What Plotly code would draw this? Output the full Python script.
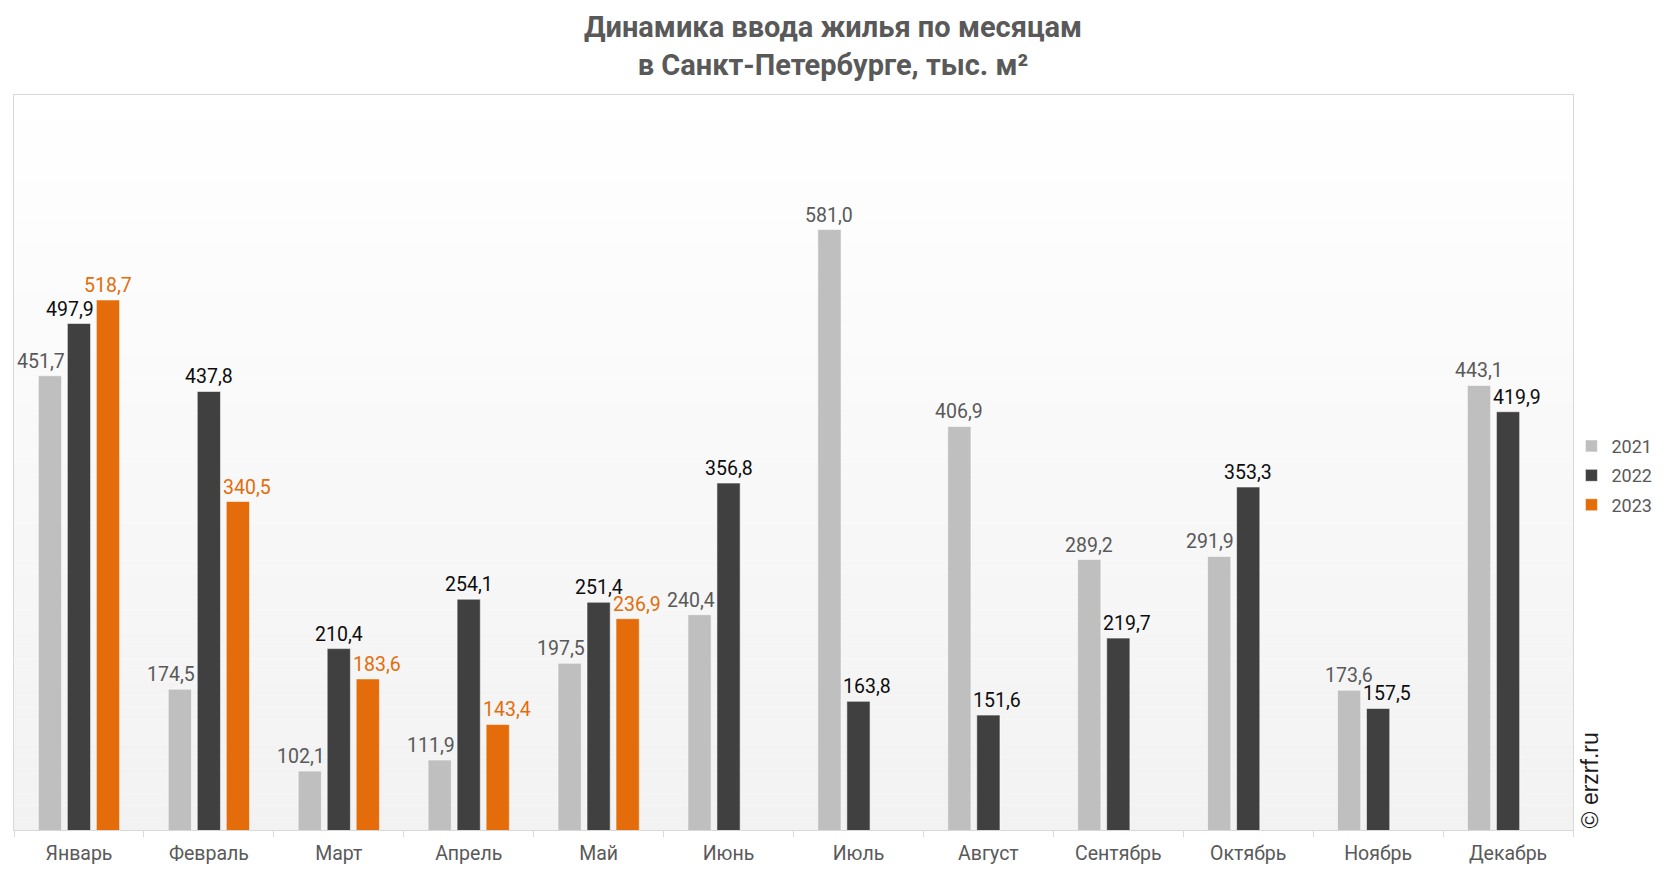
import plotly.graph_objects as go

months = ["Январь", "Февраль", "Март", "Апрель", "Май", "Июнь", "Июль",
          "Август", "Сентябрь", "Октябрь", "Ноябрь", "Декабрь"]
v2021 = [451.7, 174.5, 102.1, 111.9, 197.5, 240.4, 581.0, 406.9, 289.2, 291.9, 173.6, 443.1]
v2022 = [497.9, 437.8, 210.4, 254.1, 251.4, 356.8, 163.8, 151.6, 219.7, 353.3, 157.5, 419.9]
v2023 = [518.7, 340.5, 183.6, 143.4, 236.9, None, None, None, None, None, None, None]

series = [
    ("2021", v2021, "#BFBFBF", "#595959"),
    ("2022", v2022, "#404040", "#0d0d0d"),
    ("2023", v2023, "#E46C0A", "#E46C0A"),
]

W, H = 1666, 872
ML, MR, MT, MB = 14, 93, 95, 42
BARGAP, BARGROUPGAP = 0.33, 0.2

def fmt(v):
    return f"{v:.1f}".replace(".", ",")

fig = go.Figure()
for name, vals, col, tcol in series:
    fig.add_trace(go.Bar(
        x=months, y=vals, name=name, legendgroup=name,
        marker=dict(color=col, line=dict(width=1, color="rgba(255,255,255,0.55)")),
    ))

# data labels as annotations (drawn above all bars), nudged away from a taller neighbour
cat_w = (W - ML - MR) / len(months)
slot = cat_w * (1 - BARGAP) / len(series)
nudge = 9
annotations = []
for si, (name, vals, col, tcol) in enumerate(series):
    for mi, m in enumerate(months):
        v = vals[mi]
        if v is None:
            continue
        left = series[si - 1][1][mi] if si > 0 else None
        right = series[si + 1][1][mi] if si + 1 < len(series) else None
        shift = 0
        if right is not None and right > v:
            shift -= nudge
        if left is not None and left > v:
            shift += nudge
        annotations.append(dict(
            x=m, y=v, xref="x", yref="y", text=fmt(v), showarrow=False,
            xanchor="center", yanchor="bottom", yshift=1,
            xshift=(si - (len(series) - 1) / 2) * slot + shift,
            font=dict(family="Roboto", size=19.5, color=tcol),
        ))

annotations.append(dict(
    text="© erzrf.ru", textangle=-90, xref="paper", yref="paper",
    x=1.0112, y=0.0, xanchor="center", yanchor="bottom",
    showarrow=False, font=dict(family="Liberation Sans", size=23, color="#1a1a1a"),
))

# vertical gradient background of the plot area
shapes = []
n = 60
for i in range(n):
    t = (i + 0.5) / n  # 0 bottom -> 1 top
    c = round(242 + (255 - 242) * t)
    shapes.append(dict(type="rect", xref="x domain", yref="y domain",
                       x0=0, x1=1, y0=i / n, y1=(i + 1) / n,
                       fillcolor=f"rgb({c},{c},{c})", line=dict(width=0),
                       layer="below"))

fig.update_layout(
    width=W, height=H,
    margin=dict(l=ML, r=MR, t=MT, b=MB, autoexpand=False),
    paper_bgcolor="white", plot_bgcolor="white",
    barmode="group", bargap=BARGAP, bargroupgap=BARGROUPGAP,
    shapes=shapes,
    annotations=annotations,
    title=dict(
        text="Динамика ввода жилья по месяцам<br>в Санкт-Петербурге, тыс. м²",
        x=0.5, xanchor="center", yref="container", y=1 - 37 / 872, yanchor="middle",
        font=dict(family="Roboto", size=29, color="#595959", weight="bold"),
    ),
    font=dict(family="Roboto", size=18, color="#595959"),
    legend=dict(x=0.999, xanchor="left", y=0.482, yanchor="middle",
                font=dict(family="Roboto", size=18, color="#595959"),
                itemwidth=30, tracegroupgap=3, bgcolor="rgba(0,0,0,0)"),
    showlegend=True,
)
fig.update_xaxes(
    automargin=False,
    showline=True, linecolor="#d9d9d9", linewidth=1, mirror=True,
    tickson="boundaries", ticks="outside", ticklen=6, tickcolor="#d9d9d9",
    ticklabelstandoff=6,
    tickfont=dict(family="Roboto", size=19.5, color="#595959"),
    showgrid=False,
)
fig.update_yaxes(
    automargin=False,
    range=[50, 700], showticklabels=False, showgrid=False, zeroline=False,
    showline=True, linecolor="#d9d9d9", linewidth=1, mirror=True, ticks="",
)

fig.write_html("out.html")
